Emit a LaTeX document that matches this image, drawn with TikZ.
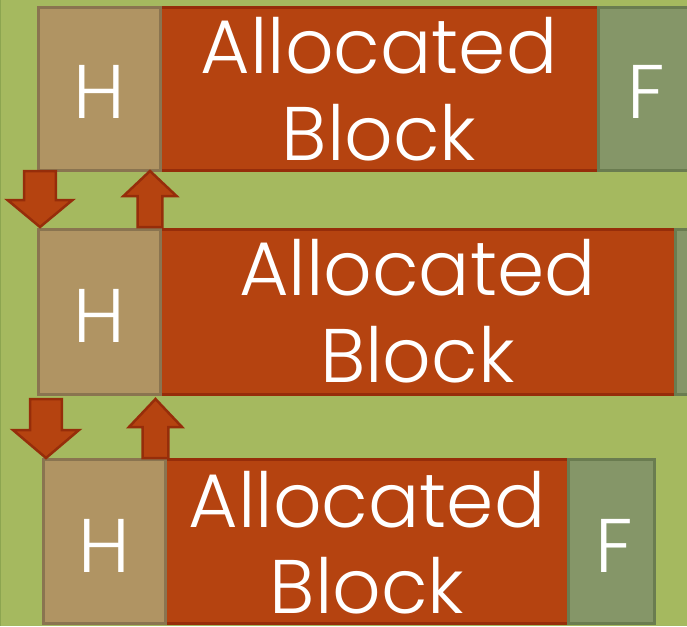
\documentclass[tikz,border=0pt]{standalone}
\usepackage{fontspec}
\usetikzlibrary{calc}
\newfontfamily\gothic{Poppins}[UprightFont={* Light}]

\definecolor{bgGreen}{HTML}{A5B95F}
\definecolor{edgeGreen}{HTML}{8CA550}
\definecolor{hdrFill}{HTML}{B09463}
\definecolor{hdrLine}{HTML}{8A7450}
\definecolor{blkFill}{HTML}{B54310}
\definecolor{blkLine}{HTML}{962D0A}
\definecolor{ftrFill}{HTML}{859668}
\definecolor{ftrLine}{HTML}{6A7C50}

\tikzset{
  cellbox/.style={draw, line width=3pt, inner sep=0pt},
  hdr/.style={cellbox, fill=hdrFill, draw=hdrLine},
  blk/.style={cellbox, fill=blkFill, draw=blkLine},
  ftr/.style={cellbox, fill=ftrFill, draw=ftrLine},
  lbl/.style={text=white, inner sep=0pt, anchor=base,
    font=\gothic\fontsize{76}{86}\selectfont},
  ptr/.style={fill=blkFill, draw=blkLine, line width=2.5pt, line join=miter},
}

% box given by its outer corners
\newcommand\cell[6]{%
  \node[#2, minimum width={#5-#3-3}, minimum height={#6-#4-3}]
    (#1) at ({(#3+#5)/2},{(#4+#6)/2}) {};}

% block arrow from #1 to #2: half shaft #3, half head #4, head length #5
\newcommand\blockarrow[5]{%
  \coordinate (ba-h) at ($(#2)!#5!(#1)$);
  \path[ptr] ($(#1)!#3!90:(#2)$) -- ($(ba-h)!#3!90:(#2)$)
    -- ($(ba-h)!#4!90:(#2)$) -- (#2) -- ($(ba-h)!#4!-90:(#2)$)
    -- ($(ba-h)!#3!-90:(#2)$) -- ($(#1)!#3!-90:(#2)$) -- cycle;}

\begin{document}
\begin{tikzpicture}[x=1pt,y=-1pt]
\useasboundingbox (0,0) rectangle (687,626);
\clip (0,0) rectangle (687,626);
\fill[bgGreen] (0,0) rectangle (687,626);
\draw[edgeGreen, line width=1.2pt] (0.6,0) -- (0.6,626);

% first row
\cell{a1}{blk}{159}{6}{600}{172}
\cell{h1}{hdr}{37}{6}{162}{172}
\cell{f1}{ftr}{597}{6}{690}{172}
% second row
\cell{a2}{blk}{159}{228}{677}{396}
\cell{h2}{hdr}{37}{228}{162}{396}
\cell{f2}{ftr}{674}{228}{770}{396}
% third row
\cell{a3}{blk}{164}{458}{570}{625}
\cell{h3}{hdr}{42}{458}{167}{625}
\cell{f3}{ftr}{567}{458}{656}{625}

% labels
\node[lbl] (h1t) at (99.5,118) {H};
\node[lbl] (h2t) at (99.5,342) {H};
\node[lbl] (h3t) at (104.5,572) {H};
\node[lbl] (f1t) at (646,118) {F};
\node[lbl] (f3t) at (614,572) {F};
\node[lbl] (a1t) at (379,73) {Allocated};
\node[lbl] (a1b) at (379,160) {Block};
\node[lbl] (a2t) at (417.5,295) {Allocated};
\node[lbl] (a2b) at (417.5,382) {Block};
\node[lbl] (a3t) at (367,527) {Allocated};
\node[lbl] (a3b) at (367,613) {Block};

% pointer arrows between headers
\coordinate (p1s) at ($(h1.south west)+(3,-1)$);
\coordinate (p1e) at ($(h2.north west)+(3,-1)$);
\coordinate (q1s) at ($(h2.north east)+(-12,-1)$);
\coordinate (q1e) at ($(h1.south east)+(-12,-1)$);
\coordinate (p2s) at ($(h2.south west)+(9,3)$);
\coordinate (p2e) at ($(h3.north west)+(4,0)$);
\coordinate (q2s) at ($(h3.north east)+(-11.5,0)$);
\coordinate (q2e) at ($(h2.south east)+(-6.5,3)$);

\blockarrow{p1s}{p1e}{15.8pt}{32.5pt}{27pt}
\blockarrow{q1s}{q1e}{12.3pt}{26.5pt}{25pt}
\blockarrow{p2s}{p2e}{15.8pt}{33pt}{28pt}
\blockarrow{q2s}{q2e}{12.8pt}{26.5pt}{28pt}
\end{tikzpicture}
\end{document}
